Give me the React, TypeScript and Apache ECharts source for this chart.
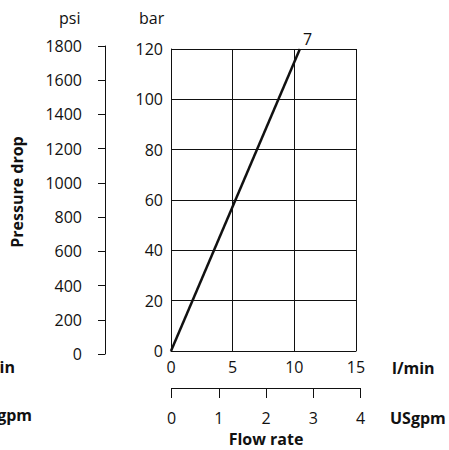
import React, { useEffect, useRef } from "react";
import * as echarts from "echarts";

const flowLmin = [0, 10.45];
const pressureBar = [0, 120];
const curveLabel = "7";
const barRange = [0, 120, 20];
const psiRange = [0, 1800, 200];
const lminRange = [0, 15, 5];
const gpmRange = [0, 4, 1];

const FONT = "'Open Sans', sans-serif";
const INK = "#111";

export default function App() {
  const ref = useRef<HTMLDivElement>(null);
  useEffect(() => {
    if (!ref.current) return;
    const chart = echarts.init(ref.current, undefined, { renderer: "svg" });
    const data = flowLmin.map((x, i) => [x, pressureBar[i]]);
    const plain = (v: number) => String(v);
    const txt = (text: string, x: number, y: number, opts: any = {}) => ({
      type: "text",
      x,
      y,
      rotation: opts.rotation || 0,
      style: {
        text,
        fill: INK,
        font: `${opts.bold ? "bold " : ""}16px ${FONT}`,
        align: opts.align || "left",
        verticalAlign: "middle",
      },
    });
    const lbl = (margin: number) => ({
      color: INK,
      fontSize: 16,
      fontFamily: FONT,
      margin,
      formatter: plain,
    });
    chart.setOption({
      animation: false,
      textStyle: { fontFamily: FONT },
      grid: [
        { left: 171, top: 49, width: 185, height: 302 },
        { left: 105, top: 46, width: 1, height: 308 },
        { left: 171.5, top: 387, width: 189, height: 1 },
      ],
      xAxis: [
        {
          gridIndex: 0,
          type: "value",
          min: lminRange[0],
          max: lminRange[1],
          interval: lminRange[2],
          axisLine: { show: true, lineStyle: { color: INK, width: 1 } },
          axisTick: { show: false },
          axisLabel: lbl(8),
          splitLine: { show: true, lineStyle: { color: INK, width: 1 } },
        },
        { gridIndex: 1, type: "value", show: false },
        {
          gridIndex: 2,
          type: "value",
          min: gpmRange[0],
          max: gpmRange[1],
          interval: gpmRange[2],
          position: "bottom",
          axisLine: { show: true, lineStyle: { color: INK, width: 1 } },
          axisTick: { show: true, length: 10, lineStyle: { color: INK, width: 1 } },
          axisLabel: lbl(22),
          splitLine: { show: false },
        },
      ],
      yAxis: [
        {
          gridIndex: 0,
          type: "value",
          min: barRange[0],
          max: barRange[1],
          interval: barRange[2],
          axisLine: { show: true, lineStyle: { color: INK, width: 1 } },
          axisTick: { show: false },
          axisLabel: lbl(8),
          splitLine: { show: true, lineStyle: { color: INK, width: 1 } },
        },
        {
          gridIndex: 1,
          type: "value",
          min: psiRange[0],
          max: psiRange[1],
          interval: psiRange[2],
          axisLine: { show: true, lineStyle: { color: INK, width: 1 } },
          axisTick: { show: true, length: 7, lineStyle: { color: INK, width: 1 } },
          axisLabel: lbl(23),
          splitLine: { show: false },
        },
        { gridIndex: 2, type: "value", show: false },
      ],
      series: [
        {
          type: "line",
          xAxisIndex: 0,
          yAxisIndex: 0,
          data,
          showSymbol: false,
          symbol: "none",
          lineStyle: { color: INK, width: 2.5 },
          clip: false,
          endLabel: {
            show: true,
            formatter: curveLabel,
            color: INK,
            fontSize: 16,
            fontFamily: FONT,
            offset: [-5, -10],
          },
        },
      ],
      graphic: [
        txt("psi", 59, 18),
        txt("bar", 139, 18),
        txt("l/min", 392, 368, { bold: true }),
        txt("USgpm", 390, 418, { bold: true }),
        txt("Flow rate", 266, 439, { bold: true, align: "center" }),
        txt("Pressure drop", 17, 192, { bold: true, align: "center", rotation: Math.PI / 2 }),
        txt("l/min", 15, 367, { bold: true, align: "right" }),
        txt("USgpm", 32, 415, { bold: true, align: "right" }),
      ],
    });
    return () => chart.dispose();
  }, []);
  return (
    <div
      ref={ref}
      style={{ position: "fixed", left: 0, top: 0, width: 449, height: 450, background: "#fff" }}
    />
  );
}
